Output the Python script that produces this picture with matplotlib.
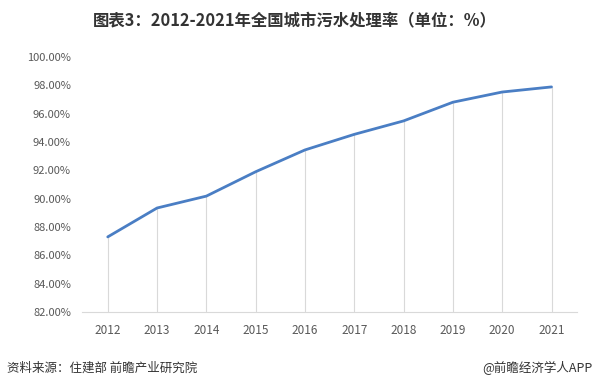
import numpy as np
import matplotlib
matplotlib.use('Agg')
import matplotlib.pyplot as plt
from matplotlib.ticker import FuncFormatter

plt.rcParams['font.family'] = ['Noto Sans CJK SC', 'DejaVu Sans']

# data
years = [2012, 2013, 2014, 2015, 2016, 2017, 2018, 2019, 2020, 2021]
rate = [87.30, 89.34, 90.18, 91.90, 93.44, 94.54, 95.49, 96.81, 97.53, 97.89]
y_ticks = [82, 84, 86, 88, 90, 92, 94, 96, 98, 100]

title = '图表3：2012-2021年全国城市污水处理率（单位：%）'
source = '资料来源：住建部 前瞻产业研究院'
credit = '@前瞻经济学人APP'

fig = plt.figure(figsize=(5.95, 3.88), dpi=100)
ax = fig.add_axes([0.138, 0.196, 0.832, 0.657])

# drop lines from each point down to the axis
ax.vlines(years, 82, rate, color='#d9d9d9', lw=0.8, zorder=1)
ax.plot(years, rate, color='#4a7ec4', lw=2.0, zorder=3, solid_capstyle='round')

ax.set_xlim(2011.48, 2021.52)
ax.set_ylim(82, 100)
ax.set_xticks(years)
ax.set_yticks(y_ticks)
ax.yaxis.set_major_formatter(FuncFormatter(lambda v, p: '{0:.2f}%'.format(v)))

for s in ['top', 'right', 'left']:
    ax.spines[s].set_visible(False)
ax.spines['bottom'].set_color('#d9d9d9')
ax.spines['bottom'].set_linewidth(0.8)
ax.tick_params(length=0, colors='#595959')
ax.tick_params(axis='x', pad=9, labelsize=8.5)
ax.tick_params(axis='y', pad=8, labelsize=8)

fig.text(0.495, 0.947, title, ha='center', va='center', fontsize=11.8, fontweight='bold', color='#333333')
fig.text(0.012, 0.052, source, ha='left', va='center', fontsize=9, color='#333333')
fig.text(0.995, 0.052, credit, ha='right', va='center', fontsize=9, color='#333333')

plt.savefig('out.png', dpi=100)
